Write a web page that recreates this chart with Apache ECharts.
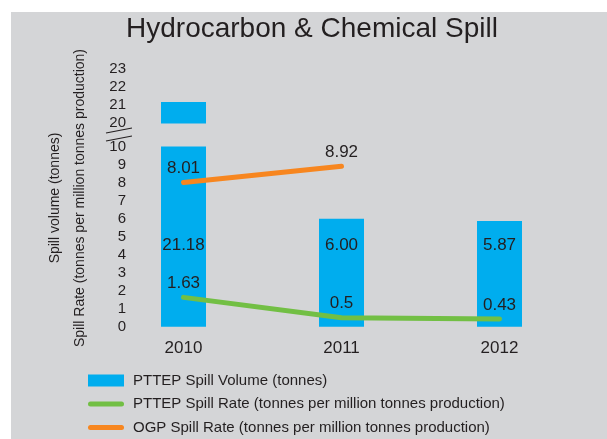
<!DOCTYPE html>
<html>
<head>
<meta charset="utf-8">
<script src="https://cdn.jsdelivr.net/npm/echarts@6/dist/echarts.min.js"></script>
<style>
  html, body { margin: 0; padding: 0; background: #fff; }
  #chart { width: 607px; height: 439px; }
</style>
</head>
<body>
<div id="chart"></div>
<script>
var years = [2010, 2011, 2012];
var spillVolume = [21.18, 6.00, 5.87];
var spillRate = [1.63, 0.5, 0.43];
var ogpRate = [8.01, 8.92, null];
var volumeLabels = ['21.18', '6.00', '5.87'];
var rateLabels = ['1.63', '0.5', '0.43'];
var ogpLabels = ['8.01', '8.92', ''];

var FONT = "'Liberation Sans', Arial, sans-serif";
var INK = '#231f20';
var PANEL = '#d4d5d7';
var LINE_ICON = 'path://M2.5,0H33.5A2.5,2.5,0,0,1,33.5,5H2.5A2.5,2.5,0,0,1,2.5,0Z';

function pairs(vals) {
  return years.map(function (y, i) { return [y, vals[i]]; });
}

var chart = echarts.init(document.getElementById('chart'));

function baseGraphic(extra) {
  return [
    { type: 'rect', z: -10, silent: true, shape: { x: 11, y: 12, width: 596, height: 427 }, style: { fill: PANEL } }
  ].concat(extra || []);
}

chart.setOption({
  backgroundColor: '#fff',
  textStyle: { fontFamily: FONT, color: INK },
  title: {
    text: 'Hydrocarbon & Chemical Spill',
    left: 307, top: 10, textAlign: 'center',
    textStyle: { fontFamily: FONT, fontSize: 28, fontWeight: 'normal', color: INK }
  },
  legend: {
    orient: 'vertical', left: 88, top: 373, padding: 0,
    itemWidth: 36, itemHeight: 12, itemGap: 8.5,
    textStyle: { fontFamily: FONT, fontSize: 15, color: INK, padding: [0, 0, 0, 4] },
    data: [
      { name: 'PTTEP Spill Volume (tonnes)', icon: 'rect' },
      { name: 'PTTEP Spill Rate (tonnes per million tonnes production)', icon: LINE_ICON },
      { name: 'OGP Spill Rate (tonnes per million tonnes production)', icon: LINE_ICON }
    ]
  },
  grid: { left: 132, right: 28.5, top: 69.3, bottom: 112.3 },
  xAxis: {
    type: 'value', min: 2009.674, max: 2012.5,
    splitLine: { show: false }, axisLine: { show: false }, axisTick: { show: false },
    axisLabel: {
      customValues: years, fontFamily: FONT, fontSize: 17, color: INK, margin: 13,
      formatter: function (v) { return String(v); }
    }
  },
  yAxis: {
    type: 'value', min: 0, max: 23, interval: 1,
    breaks: [{ start: 10, end: 20, gap: 1.3 }],
    breakArea: {
      show: true, zigzagAmplitude: 0, expandOnClick: false,
      itemStyle: { color: PANEL, borderColor: PANEL, borderWidth: 0, opacity: 1 }
    },
    name: 'Spill volume (tonnes)\nSpill Rate (tonnes per million tonnes production)',
    nameLocation: 'middle', nameRotate: 90, nameGap: 39, nameMoveOverlap: false,
    nameTextStyle: { fontFamily: FONT, fontSize: 14, color: INK, lineHeight: 25 },
    axisLine: { show: false }, axisTick: { show: false }, splitLine: { show: false },
    axisLabel: { fontFamily: FONT, fontSize: 15, color: INK, margin: 6 }
  },
  series: [
    {
      name: 'PTTEP Spill Volume (tonnes)', type: 'bar', data: pairs(spillVolume),
      barWidth: 45, itemStyle: { color: '#00adee' },
      label: {
        show: true, position: 'insideBottom', distance: 73,
        fontFamily: FONT, fontSize: 17, color: INK,
        formatter: function (p) { return volumeLabels[p.dataIndex]; }
      }
    },
    {
      name: 'PTTEP Spill Rate (tonnes per million tonnes production)', type: 'line', data: pairs(spillRate),
      symbol: 'circle', symbolSize: 1, showSymbol: true, zlevel: 1,
      lineStyle: { color: '#72bf44', width: 5, cap: 'round' }, itemStyle: { color: '#72bf44' },
      label: {
        show: true, position: 'top', distance: 5,
        fontFamily: FONT, fontSize: 17, color: INK,
        formatter: function (p) { return rateLabels[p.dataIndex]; }
      }
    },
    {
      name: 'OGP Spill Rate (tonnes per million tonnes production)', type: 'line', data: pairs(ogpRate),
      symbol: 'circle', symbolSize: 1, showSymbol: true, zlevel: 1,
      lineStyle: { color: '#f7861f', width: 5, cap: 'round' }, itemStyle: { color: '#f7861f' },
      label: {
        show: true, position: 'top', distance: 5,
        fontFamily: FONT, fontSize: 17, color: INK,
        formatter: function (p) { return ogpLabels[p.dataIndex]; }
      }
    }
  ],
  graphic: baseGraphic()
});

// break marks beside the tick labels, placed from the axis scale
var yLow = chart.convertToPixel({ yAxisIndex: 0 }, 10);
var yHigh = chart.convertToPixel({ yAxisIndex: 0 }, 20);
var mid = (yLow + yHigh) / 2;
chart.setOption({
  graphic: baseGraphic([
    { type: 'line', silent: true, shape: { x1: 106, y1: mid - 2, x2: 132, y2: mid - 7 }, style: { stroke: INK, lineWidth: 1.2 } },
    { type: 'line', silent: true, shape: { x1: 106, y1: mid + 6, x2: 132, y2: mid + 1 }, style: { stroke: INK, lineWidth: 1.2 } }
  ])
});
</script>
</body>
</html>
